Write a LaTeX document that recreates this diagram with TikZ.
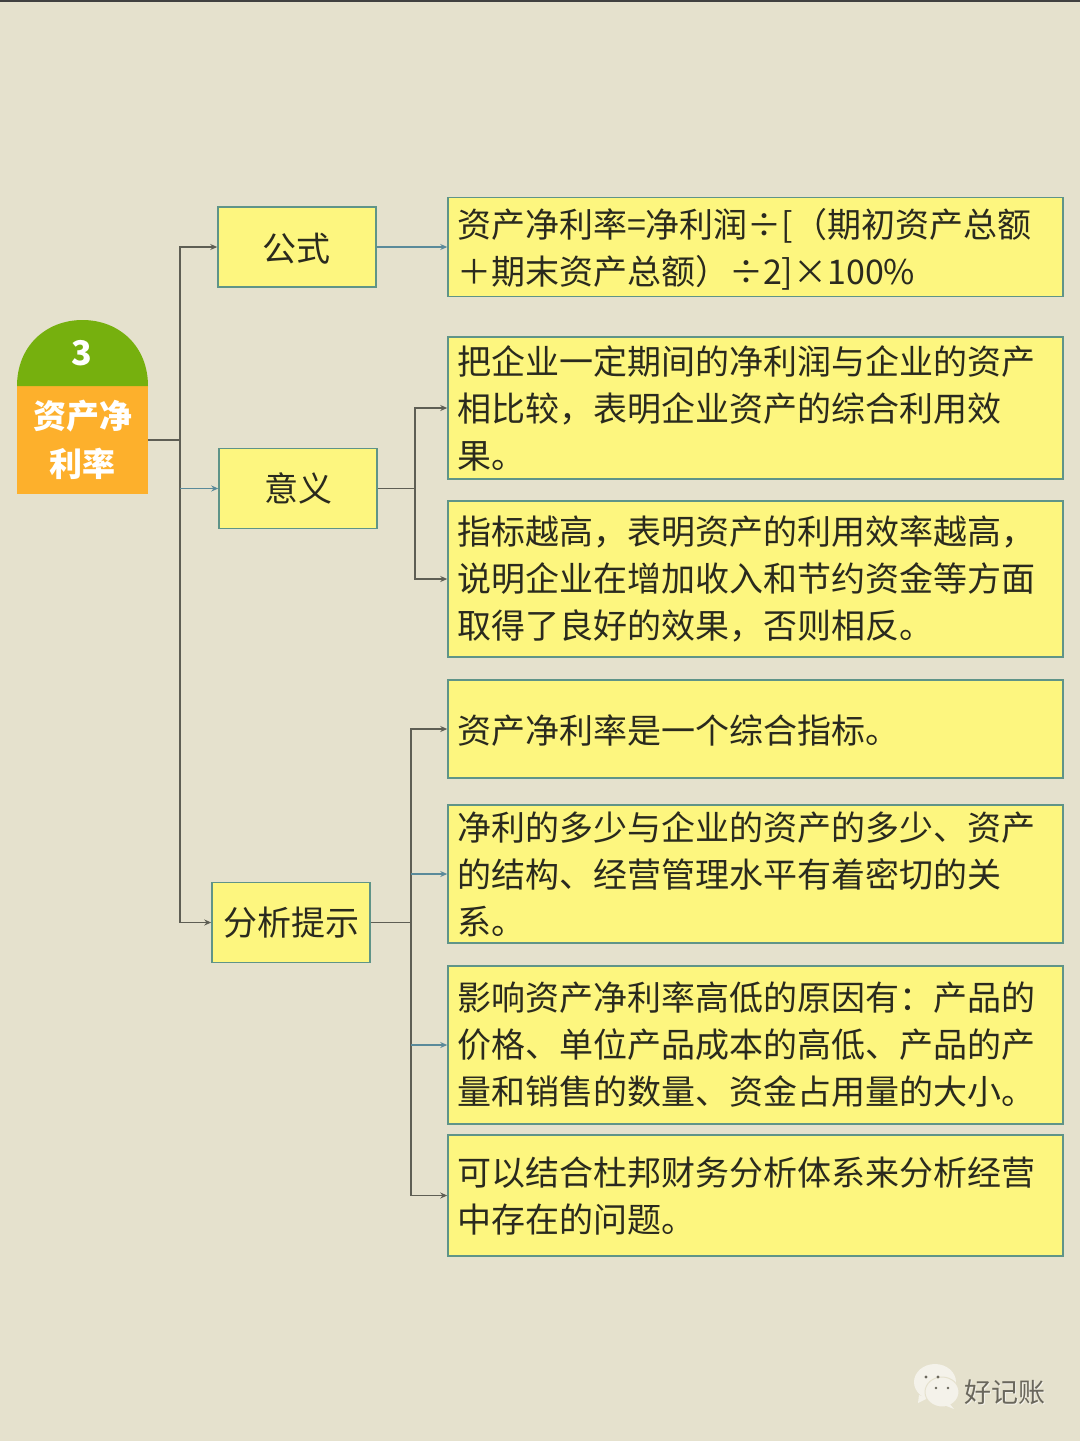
\documentclass[tikz,border=0pt]{standalone}
\usepackage{fontspec}
\usetikzlibrary{arrows.meta}
\newfontfamily\cjk{Noto Sans CJK SC}
\definecolor{bgc}{HTML}{E5E1CD}
\definecolor{boxfill}{HTML}{FDF67F}
\definecolor{boxline}{HTML}{5F9488}
\definecolor{conn}{HTML}{5E5E54}
\definecolor{connb}{HTML}{5A8A9A}
\definecolor{domeg}{HTML}{76B00E}
\definecolor{rooto}{HTML}{FDB02C}
\definecolor{ink}{HTML}{2A2A1E}
\definecolor{logo}{HTML}{F4F2EA}
\definecolor{logoink}{HTML}{6A675C}
\tikzset{
 x=1pt,y=-1pt,
 basebox/.style={draw=boxline,line width=1.5pt,fill=boxfill,text=ink,inner sep=0pt,font=\cjk\fontsize{34}{47}\selectfont},
 midbox/.style={basebox,minimum width=158pt,minimum height=80pt,align=center},
 textbox/.style={basebox,minimum width=615pt,text width=597pt,align=left},
 onlytext/.style={text=ink,inner sep=0pt,font=\cjk\fontsize{34}{47}\selectfont,align=left},
 link/.style={draw=conn,line width=1.5pt},
 linkb/.style={draw=connb,line width=1.2pt},
 tip/.style={-{Stealth[length=7pt,width=6pt]}},
}
\begin{document}
\begin{tikzpicture}
\useasboundingbox (0,0) rectangle (1080,1441);
\fill[bgc] (0,0) rectangle (1080,1441);
\fill[black!75] (0,0) rectangle (1080,1.5);
% root
\node[fill=rooto,minimum width=131pt,minimum height=108pt,inner sep=0pt,align=center,text=white,font=\cjk\bfseries\fontsize{33}{48}\selectfont] (root) at (82.5,440) {资产净\\利率};
\fill[domeg] (17,386) .. controls (17,346) and (46,320) .. (82.5,320) .. controls (119,320) and (148,346) .. (148,386) -- cycle;
\node[text=white,inner sep=0pt,font=\cjk\bfseries\fontsize{34}{34}\selectfont] (num) at (82,353) {3};
% second level
\node[midbox] (gs) at (297,247) {};
\node[onlytext] (gstext) at (296,249) {公式};
\node[midbox] (yy) at (298,488.5) {意义};
\node[midbox] (fx) at (291,922.5) {分析提示};
% third level
\node[textbox,minimum height=99pt] (a1) at (755.5,247) {};
\node[onlytext,text width=597pt] (a1text) at (755.5,249.5) {资产净利率=净利润÷[（期初资产总额\\＋期末资产总额）÷2]×100\%};
\node[textbox,minimum height=142pt] (b1) at (755.5,408) {把企业一定期间的净利润与企业的资产\\相比较，表明企业资产的综合利用效\\果。};
\node[textbox,minimum height=156pt] (b2) at (755.5,579) {指标越高，表明资产的利用效率越高，\\说明企业在增加收入和节约资金等方面\\取得了良好的效果，否则相反。};
\node[textbox,minimum height=98pt] (c1) at (755.5,729) {};
\node[onlytext,text width=597pt] (c1text) at (755.5,731) {资产净利率是一个综合指标。};
\node[textbox,minimum height=138pt] (c2) at (755.5,874) {净利的多少与企业的资产的多少、资产\\的结构、经营管理水平有着密切的关\\系。};
\node[textbox,minimum height=158pt] (c3) at (755.5,1045) {影响资产净利率高低的原因有：产品的\\价格、单位产品成本的高低、产品的产\\量和销售的数量、资金占用量的大小。};
\node[textbox,minimum height=121pt] (c4) at (755.5,1195.5) {};
\node[onlytext,text width=597pt] (c4text) at (755.5,1196.5) {可以结合杜邦财务分析体系来分析经营\\中存在的问题。};
% trunk points
\coordinate (t0) at (180,440);
\coordinate (t1) at (415,488.5);
\coordinate (t2) at (411,922.5);
% connectors
\draw[link] (root.east |- t0) -- (t0);
\draw[link,tip] (t0) |- (gs.west);
\draw[link,tip] (t0) |- (fx.west);
\draw[linkb,tip] (t0 |- yy.west) -- (yy.west);
\draw[linkb,tip] (gs.east) -- (a1.west);
\draw[link] (yy.east) -- (t1);
\draw[link,tip] (t1) |- (b1.west);
\draw[link,tip] (t1) |- (b2.west);
\draw[link] (fx.east) -- (t2);
\draw[link,tip] (t2) |- (c1.west);
\draw[link,tip] (t2) |- (c4.west);
\draw[linkb,tip] (t2 |- c2.west) -- (c2.west);
\draw[linkb,tip] (t2 |- c3.west) -- (c3.west);
% watermark
\fill[logo] (935,1382) circle[x radius=21pt,y radius=18pt];
\fill[logo] (919,1395) -- (918,1403) -- (928,1398) -- cycle;
\fill[logo,draw=bgc,line width=1pt] (942,1392) circle[x radius=17pt,y radius=15pt];
\fill[logo] (950,1404) -- (954,1409) -- (944,1405) -- cycle;
\fill[logoink] (926,1377) circle (1.6pt) (938,1377) circle (1.6pt) (936,1388) circle (1.4pt) (948,1388) circle (1.4pt);
\node[text=logo,inner sep=0pt,font=\cjk\fontsize{27}{27}\selectfont] (wm0) at (1005.5,1393) {好记账};
\node[text=logoink,inner sep=0pt,font=\cjk\fontsize{27}{27}\selectfont] (wm) at (1004.5,1392) {好记账};
\end{tikzpicture}
\end{document}
